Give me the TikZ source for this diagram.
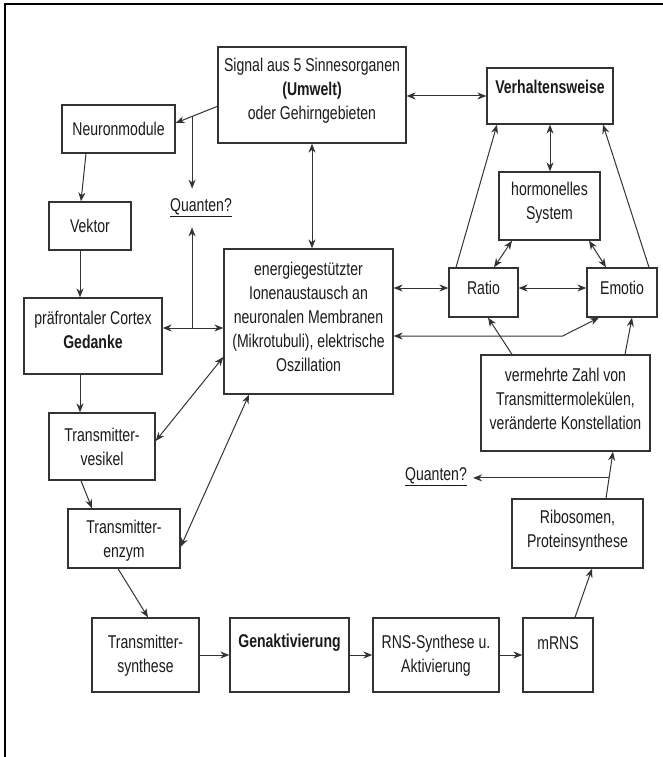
\documentclass[tikz,border=0pt]{standalone}
\usepackage{fontspec}
\setmainfont[FakeStretch=0.76]{Liberation Sans}
\usetikzlibrary{arrows.meta,fit}
\definecolor{lc}{HTML}{333333}
\definecolor{tc}{HTML}{1A1A1A}
\tikzset{
  box/.style={draw=lc, line width=1.3pt, inner sep=0pt},
  txt/.style={font=\fontsize{18.5}{24}\selectfont, align=center, text=tc, inner sep=0pt},
  arr/.style={draw=lc, line width=1pt, -{Stealth[length=9pt,width=7pt]}},
  barr/.style={draw=lc, line width=1pt, {Stealth[length=9pt,width=7pt]}-{Stealth[length=9pt,width=7pt]}},
}
\begin{document}
\begin{tikzpicture}[x=1pt,y=-1pt]
\useasboundingbox (0,0) rectangle (663,757);
\draw[line width=2pt, black] (5,757) -- (5,4) -- (663,4);

% boxes
\node[box, fit={(218,47) (406,143)}] (signal) {};
\node[box, fit={(487,68) (613,124)}] (verh) {};
\node[box, fit={(62,105) (175,153)}] (neuron) {};
\node[box, fit={(49,202) (131,250)}] (vektor) {};
\node[box, fit={(24,298) (162,374)}] (cortex) {};
\node[box, fit={(49,413) (155,480)}] (vesikel) {};
\node[box, fit={(68,509) (180,568)}] (enzym) {};
\node[box, fit={(92,618) (199,692)}] (synth) {};
\node[box, fit={(230,618) (349,692)}] (genakt) {};
\node[box, fit={(373,618) (499,692)}] (rns) {};
\node[box, fit={(523,618) (593,692)}] (mrns) {};
\node[box, fit={(224,249) (393,394)}] (energie) {};
\node[box, fit={(449,268) (518,317)}] (ratio) {};
\node[box, fit={(587,268) (657,317)}] (emotio) {};
\node[box, fit={(499,172) (600,240)}] (hormon) {};
\node[box, fit={(481,355) (650,451)}] (verm) {};
\node[box, fit={(512,499) (643,568)}] (ribo) {};

% texts
\node[txt] (signalT) at (312,91) {Signal aus 5 Sinnesorganen\\\textbf{(Umwelt)}\\oder Gehirngebieten};
\node[txt] (verhT) at (550,87) {\textbf{Verhaltensweise}};
\node[txt] (neuronT) at (118.5,129) {Neuronmodule};
\node[txt] (vektorT) at (90,226) {Vektor};
\node[txt] (cortexT) at (93,329.5) {präfrontaler Cortex\\\textbf{Gedanke}};
\node[txt] (vesikelT) at (102,446.5) {Transmitter-\\vesikel};
\node[txt] (enzymT) at (124,541) {Transmitter-\\enzym};
\node[txt] (synthT) at (145.5,655.5) {Transmitter-\\synthese};
\node[txt] (genaktT) at (289.5,643) {\textbf{Genaktivierung}};
\node[txt] (rnsT) at (436,655.5) {RNS-Synthese u.\\Aktivierung};
\node[txt] (mrnsT) at (558,643) {mRNS};
\node[txt] (energieT) at (308.5,317) {energiegestützter\\Ionenaustausch an\\neuronalen Membranen\\(Mikrotubuli), elektrische\\Oszillation};
\node[txt, inner xsep=2pt, inner ysep=10pt] (quantenL) at (201,208) {\underline{Quanten?}};
\node[txt] (ratioT) at (483.5,288) {Ratio};
\node[txt] (emotioT) at (622,288) {Emotio};
\node[txt] (hormonT) at (549.5,203) {hormonelles\\System};
\node[txt] (vermT) at (565.5,399) {vermehrte Zahl von\\Transmittermolekülen,\\veränderte Konstellation};
\node[txt, inner xsep=6pt, inner ysep=4pt] (quantenR) at (436,477) {\underline{Quanten?}};
\node[txt] (riboT) at (577.5,531) {Ribosomen,\\Proteinsynthese};

% connectors
\draw[barr] (signal.east |- verh.west) -- (verh.west);
\draw[arr] ([yshift=-60]signal.north west) -- ([yshift=6]neuron.east) coordinate[pos=0.605] (qb);
\draw[arr] (qb) -- (qb |- quantenL.north);
\draw[arr] ([xshift=-32.5]neuron.south) -- ([xshift=-9]vektor.north);
\draw[arr] ([xshift=-10]vektor.south) -- ([xshift=-13]cortex.north);
\draw[arr] ([xshift=-13]cortex.south) -- ([xshift=-22]vesikel.north);
\draw[arr] ([xshift=-21]vesikel.south) -- ([xshift=-32]enzym.north);
\draw[arr] ([xshift=-6]enzym.south) -- ([xshift=2.5]synth.north);
\draw[arr] (synth.east) -- (genakt.west);
\draw[arr] (genakt.east) -- (rns.west);
\draw[arr] (rns.east) -- (mrns.west);
\draw[arr] ([xshift=17]mrns.north) -- ([xshift=14.5]ribo.south);
\draw[arr] ([xshift=28.5]ribo.north) -- ([xshift=47.5]verm.south) coordinate[pos=0.4375] (qr);
\draw[arr] (qr) -- (quantenR.east |- qr);
\draw[arr] ([xshift=-53.5]verm.north) -- ([xshift=4.5]ratio.south);
\draw[arr] ([xshift=59.5]verm.north) -- ([xshift=10]emotio.south);
\draw[barr] (ratio.east |- ratioT.center) -- (emotio.west |- ratioT.center);
\draw[barr] (energie.east |- ratioT.center) -- (ratio.west |- ratioT.center);
\draw[barr] ([yshift=-14.5]energie.east) -- ++(169,0) -- ([xshift=-23]emotio.south);
\draw[arr] ([xshift=-27.5]ratio.north) -- ([xshift=-53]verh.south);
\draw[arr] ([xshift=27]emotio.north) -- ([xshift=53]verh.south);
\draw[barr] (verh.south) -- (verh.south |- hormon.north);
\draw[barr] ([xshift=-37.5]hormon.south) -- ([xshift=10.5]ratio.north);
\draw[barr] ([xshift=39.5]hormon.south) -- ([xshift=-16]emotio.north);
\draw[barr] (signal.south) -- (signal.south |- energie.north);
\draw[barr] ([yshift=8]cortex.east) -- ([yshift=8]energie.west |- cortex.east) coordinate[pos=0.484] (qc);
\draw[arr] (qc) -- (qc |- quantenL.south);
\draw[barr] ([yshift=-35.5]energie.west) -- ([yshift=5.5]vesikel.east);
\draw[barr] ([xshift=-59.5]energie.south) -- ([yshift=-8.5]enzym.east);
\end{tikzpicture}
\end{document}
